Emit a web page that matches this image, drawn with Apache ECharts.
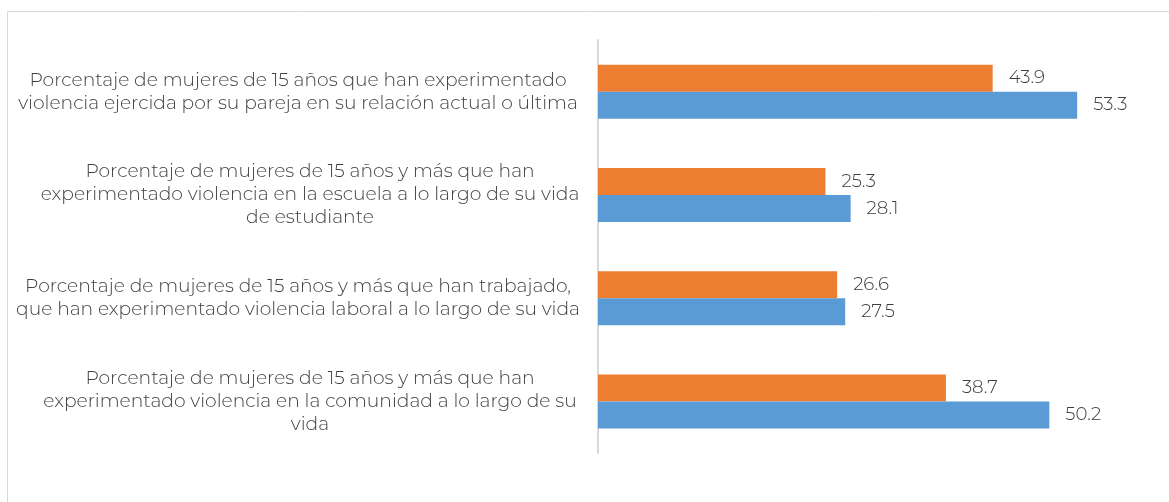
<!DOCTYPE html>
<html>
<head>
<meta charset="utf-8">
<script src="https://cdn.jsdelivr.net/npm/echarts@6/dist/echarts.min.js"></script>
<style>html,body{margin:0;padding:0;background:#fff;}#c{width:1169px;height:502px;}</style>
</head>
<body>
<div id="c"></div>
<script>
const categories = [
  "Porcentaje de mujeres de 15 años que han experimentado\nviolencia ejercida por su pareja en su relación actual o última",
  "Porcentaje de mujeres de 15 años y más que han\nexperimentado violencia en la escuela a lo largo de su vida\nde estudiante",
  "Porcentaje de mujeres de 15 años y más que han trabajado,\nque han experimentado violencia laboral a lo largo de su vida",
  "Porcentaje de mujeres de 15 años y más que han\nexperimentado violencia en la comunidad a lo largo de su\nvida"
];
const seriesOrange = [43.9, 25.3, 26.6, 38.7];
const seriesBlue = [53.3, 28.1, 27.5, 50.2];

const FONT = "'Montserrat', 'Open Sans', 'Noto Sans', sans-serif";
const chart = echarts.init(document.getElementById('c'));
const labelCfg = {
  show: true, position: 'right', distance: 16,
  color: '#404040', fontFamily: FONT, fontSize: 18.2, fontWeight: 300,
  formatter: p => p.value.toFixed(1)
};
const catText = {color: '#404040', fontFamily: FONT, fontSize: 18.7, fontWeight: 300, lineHeight: 23};
chart.setOption({
  animation: false,
  graphic: [{
    type: 'rect', silent: true,
    shape: {x: 7.5, y: 11.5, width: 1300, height: 700},
    style: {fill: 'none', stroke: '#d9d9d9', lineWidth: 1}
  }],
  grid: {left: 598, top: 40, width: 539.4, bottom: 49},
  xAxis: {
    type: 'value', min: 0, max: 60,
    show: false, splitLine: {show: false}
  },
  yAxis: {
    type: 'category', data: categories, inverse: true,
    axisLine: {show: true, lineStyle: {color: '#d9d9d9', width: 2}},
    axisTick: {show: false},
    axisLabel: Object.assign({
      margin: 300, align: 'center',
      formatter: (v, i) => (i === 1 || i === 3)
        ? v.split('\n').map(l => '{s|' + l + '}').join('\n')
        : v,
      rich: {s: Object.assign({padding: [0, 0, 0, 24], align: 'center'}, catText)}
    }, catText)
  },
  series: [
    {type: 'bar', name: 'A', data: seriesOrange, barWidth: 27, barGap: '0%',
     itemStyle: {color: '#ED7D31'}, label: labelCfg},
    {type: 'bar', name: 'B', data: seriesBlue, barWidth: 27, barGap: '0%',
     itemStyle: {color: '#5B9BD5'}, label: labelCfg}
  ]
});
</script>
</body>
</html>
